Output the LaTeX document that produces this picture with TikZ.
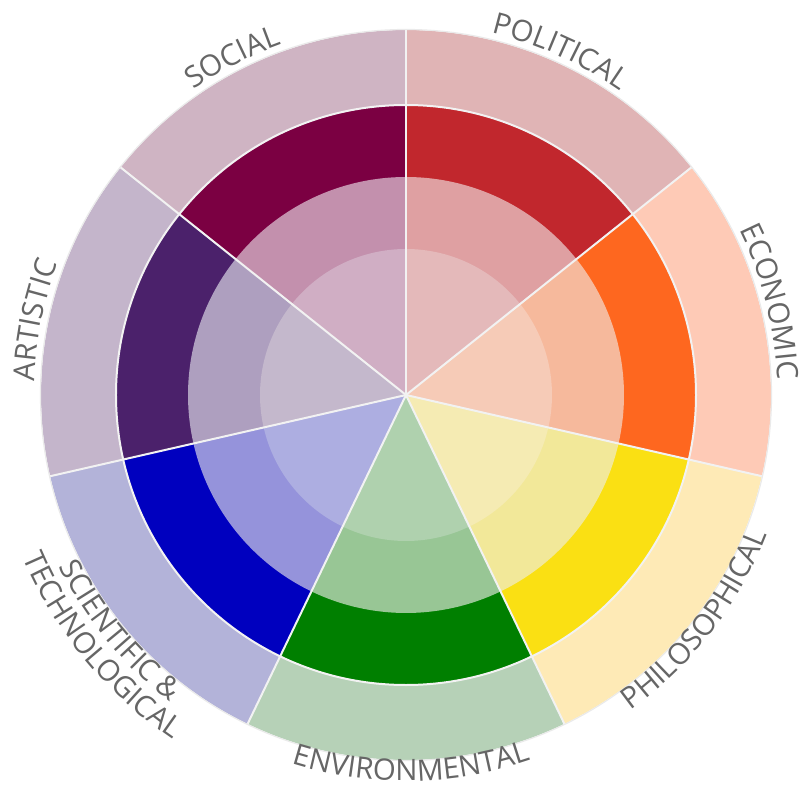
\documentclass[tikz,border=0pt]{standalone}
\usepackage{fontspec}
\setmainfont{Open Sans}
\usetikzlibrary{decorations.text}
\definecolor{polO}{HTML}{E0B4B5}\definecolor{polD}{HTML}{C1272D}\definecolor{polM}{HTML}{DFA0A2}\definecolor{polI}{HTML}{E4B9BA}
\definecolor{ecoO}{HTML}{FECAB6}\definecolor{ecoD}{HTML}{FE671F}\definecolor{ecoM}{HTML}{F6B99C}\definecolor{ecoI}{HTML}{F6CBB7}
\definecolor{phiO}{HTML}{FEEAB6}\definecolor{phiD}{HTML}{FAE013}\definecolor{phiM}{HTML}{F2E899}\definecolor{phiI}{HTML}{F5EBB3}
\definecolor{envO}{HTML}{B6D1B7}\definecolor{envD}{HTML}{007F00}\definecolor{envM}{HTML}{98C695}\definecolor{envI}{HTML}{AFD1AE}
\definecolor{sciO}{HTML}{B3B3D9}\definecolor{sciD}{HTML}{0000BF}\definecolor{sciM}{HTML}{9593DB}\definecolor{sciI}{HTML}{ADAEE1}
\definecolor{artO}{HTML}{C4B5CB}\definecolor{artD}{HTML}{4B216B}\definecolor{artM}{HTML}{AE9FBF}\definecolor{artI}{HTML}{C4B8CC}
\definecolor{socO}{HTML}{CFB4C3}\definecolor{socD}{HTML}{7B0042}\definecolor{socM}{HTML}{C390AD}\definecolor{socI}{HTML}{D0AEC4}
\definecolor{lblgray}{HTML}{666666}
\definecolor{sepline}{HTML}{F2F2F2}
\definecolor{rimline}{HTML}{EAEAEA}
\newcommand{\lf}{\fontsize{29.5}{31}\selectfont}
\begin{document}
\begin{tikzpicture}[x=1pt,y=1pt,
  sep/.style={draw=sepline,line width=2pt},
  rim/.style={draw=rimline,line width=1.2pt},
  lbl/.style={decorate,decoration={text along path,text align=center,text color=lblgray,text={#1}}}]
\useasboundingbox (-406,-394) rectangle (396,395);
\foreach \k/\o/\d/\m/\i in {0/polO/polD/polM/polI,1/socO/socD/socM/socI,2/artO/artD/artM/artI,3/sciO/sciD/sciM/sciI,4/envO/envD/envM/envI,5/phiO/phiD/phiM/phiI,6/ecoO/ecoD/ecoM/ecoI}{
  \pgfmathsetmacro\s{38.5714+51.4286*\k}
  \pgfmathsetmacro\e{\s+51.4286}
  \fill[\o] (0,0) -- (\s:365pt) arc[start angle=\s,end angle=\e,radius=365pt] -- cycle;
  \fill[\d] (0,0) -- (\s:290pt) arc[start angle=\s,end angle=\e,radius=290pt] -- cycle;
  \fill[\m] (0,0) -- (\s:218pt) arc[start angle=\s,end angle=\e,radius=218pt] -- cycle;
  \fill[\i] (0,0) -- (\s:146pt) arc[start angle=\s,end angle=\e,radius=146pt] -- cycle;
}
\draw[rim] (0,0) circle[radius=365.5pt];
\draw[sep] (0,0) circle[radius=290pt];
\foreach \k in {0,...,6}{
  \draw[sep] (0,0) -- ({38.5714+51.4286*\k}:365pt);
}
% labels, upper half (clockwise, letters outward)
\path[lbl={|\lf|SOCIAL}] (157.2:372pt) arc[start angle=157.2,end angle=77.2,radius=372pt];
\path[lbl={|\lf|POLITICAL}] (105.8:372pt) arc[start angle=105.8,end angle=25.8,radius=372pt];
\path[lbl={|\lf|ECONOMIC}] (54.4:372pt) arc[start angle=54.4,end angle=-25.6,radius=372pt];
\path[lbl={|\lf|ARTISTIC}] (208.6:372pt) arc[start angle=208.6,end angle=128.6,radius=372pt];
% labels, lower half (counter-clockwise, letters inward)
\path[lbl={|\lf|PHILOSOPHICAL}] (-77.8:387pt) arc[start angle=-77.8,end angle=2.2,radius=387pt];
\path[lbl={|\lf|ENVIRONMENTAL}] (-129.2:386pt) arc[start angle=-129.2,end angle=-49.2,radius=386pt];
\path[lbl={|\lf|SCIENTIFIC {\&}}] (-180.6:387pt) arc[start angle=-180.6,end angle=-100.6,radius=387pt];
\path[lbl={|\lf|TECHNOLOGICAL}] (-180.6:416pt) arc[start angle=-180.6,end angle=-100.6,radius=416pt];
\end{tikzpicture}
\end{document}
